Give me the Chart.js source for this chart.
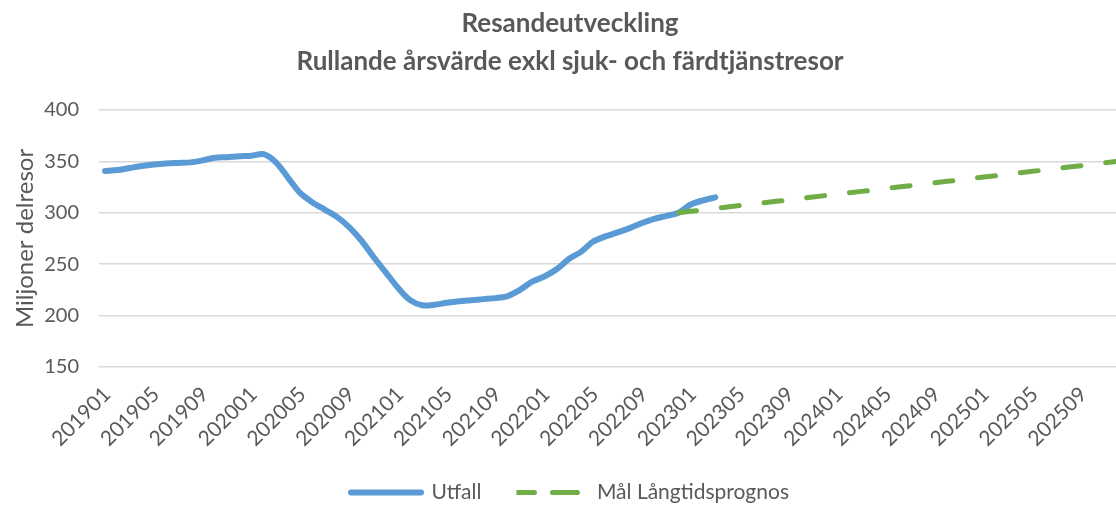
<!DOCTYPE html>
<html>
<head>
<meta charset="utf-8">
<script src="https://cdn.jsdelivr.net/npm/chart.js@4.4.1/dist/chart.umd.min.js"></script>
<style>
    html, body { margin: 0; padding: 0; background: #fff; overflow: hidden; }
    #wrap { width: 1140px; height: 507px; position: relative; }
</style>
</head>
<body>
<div id="wrap"><canvas id="chart"></canvas></div>
<script>
// Months on the category axis (every 4th one gets a label)
const months = [
    '201901','201902','201903','201904','201905','201906','201907','201908','201909','201910','201911','201912',
    '202001','202002','202003','202004','202005','202006','202007','202008','202009','202010','202011','202012',
    '202101','202102','202103','202104','202105','202106','202107','202108','202109','202110','202111','202112',
    '202201','202202','202203','202204','202205','202206','202207','202208','202209','202210','202211','202212',
    '202301','202302','202303','202304','202305','202306','202307','202308','202309','202310','202311','202312',
    '202401','202402','202403','202404','202405','202406','202407','202408','202409','202410','202411','202412',
    '202501','202502','202503','202504','202505','202506','202507','202508','202509','202510','202511','202512'
];

// Utfall, 201901 - 202303 (miljoner delresor)
const utfall = [
    340.5, 341.5, 343.5, 345.5, 347, 348, 348.5, 349, 351, 353.5, 354, 355,
    355.5, 357, 349, 334, 319, 310, 303, 296, 286, 273, 257, 242,
    227, 215, 210, 210.5, 212.5, 214, 215, 216, 217, 219, 225, 233,
    238, 245, 255, 262, 272, 277, 281, 285, 290, 294, 297, 300,
    308, 312, 315
];

// Mål Långtidsprognos, 202212 - 202512
const malStart = '202212';
const mal = [
    300, 301.4, 302.8, 304.2, 305.6, 307, 308.3, 309.7, 311.1, 312.5, 313.9, 315.3,
    316.7, 318.1, 319.4, 320.8, 322.2, 323.6, 325, 326.4, 327.8, 329.2, 330.6, 331.9,
    333.3, 334.7, 336.1, 337.5, 338.9, 340.3, 341.7, 343.1, 344.4, 345.8, 347.2, 348.6,
    350
];

const titleLines = ['Resandeutveckling', 'Rullande årsvärde exkl sjuk- och färdtjänstresor'];
const yTitle = 'Miljoner delresor';

const textColor = '#595959';
const fontFamily = 'Lato, "Open Sans", sans-serif';

// green series starts at 202212, pad with nulls before that
const malData = new Array(months.indexOf(malStart)).fill(null).concat(mal);

new Chart(document.getElementById('chart'), {
    type: 'line',
    data: {
        labels: months,
        datasets: [{
            label: 'Utfall',
            data: utfall,
            order: 1,
            borderColor: '#5B9BD5',
            backgroundColor: '#5B9BD5',
            borderWidth: 6,
            borderCapStyle: 'round',
            borderJoinStyle: 'round',
            tension: 0.3,
            pointRadius: 0,
            fill: false
        }, {
            label: 'Mål Långtidsprognos',
            data: malData,
            order: 0, // drawn on top of Utfall, like the original
            borderColor: '#70AD47',
            backgroundColor: '#70AD47',
            borderWidth: 5,
            borderDash: [18, 25],
            borderCapStyle: 'round',
            tension: 0,
            pointRadius: 0,
            fill: false
        }]
    },
    options: {
        responsive: true,
        maintainAspectRatio: false,
        animation: false,
        layout: {
            padding: { left: 16, right: 16, top: 0, bottom: -6 }
        },
        plugins: {
            title: {
                display: true,
                text: titleLines,
                color: textColor,
                font: { family: fontFamily, size: 26, weight: 'bold', lineHeight: 1.46 },
                padding: { top: 5, bottom: 29 }
            },
            legend: {
                position: 'bottom',
                labels: {
                    color: textColor,
                    font: { family: fontFamily, size: 21 },
                    boxWidth: 70,
                    boxHeight: 0,
                    padding: 35,
                    sort: (a, b) => a.datasetIndex - b.datasetIndex
                }
            },
            tooltip: { enabled: false }
        },
        scales: {
            x: {
                offset: true,
                grid: { display: false },
                border: { display: false },
                ticks: {
                    color: textColor,
                    font: { family: fontFamily, size: 21 },
                    autoSkip: false,
                    minRotation: 45,
                    maxRotation: 45,
                    padding: 7,
                    labelOffset: 2,
                    callback: function (value, index) {
                        return index % 4 === 0 ? this.getLabelForValue(value) : null;
                    }
                },
                afterFit: function (scale) {
                    scale.height = 80;
                }
            },
            y: {
                min: 150,
                max: 400,
                border: { display: false },
                grid: { color: '#d9d9d9', lineWidth: 1.5, drawTicks: false },
                ticks: {
                    stepSize: 50,
                    color: textColor,
                    font: { family: fontFamily, size: 20 },
                    padding: 20
                },
                title: {
                    display: true,
                    text: yTitle,
                    color: textColor,
                    font: { family: fontFamily, size: 24 },
                    padding: { top: -5, bottom: 0 }
                },
                afterFit: function (scale) {
                    scale.width = 83;
                }
            }
        }
    }
});
</script>
</body>
</html>
